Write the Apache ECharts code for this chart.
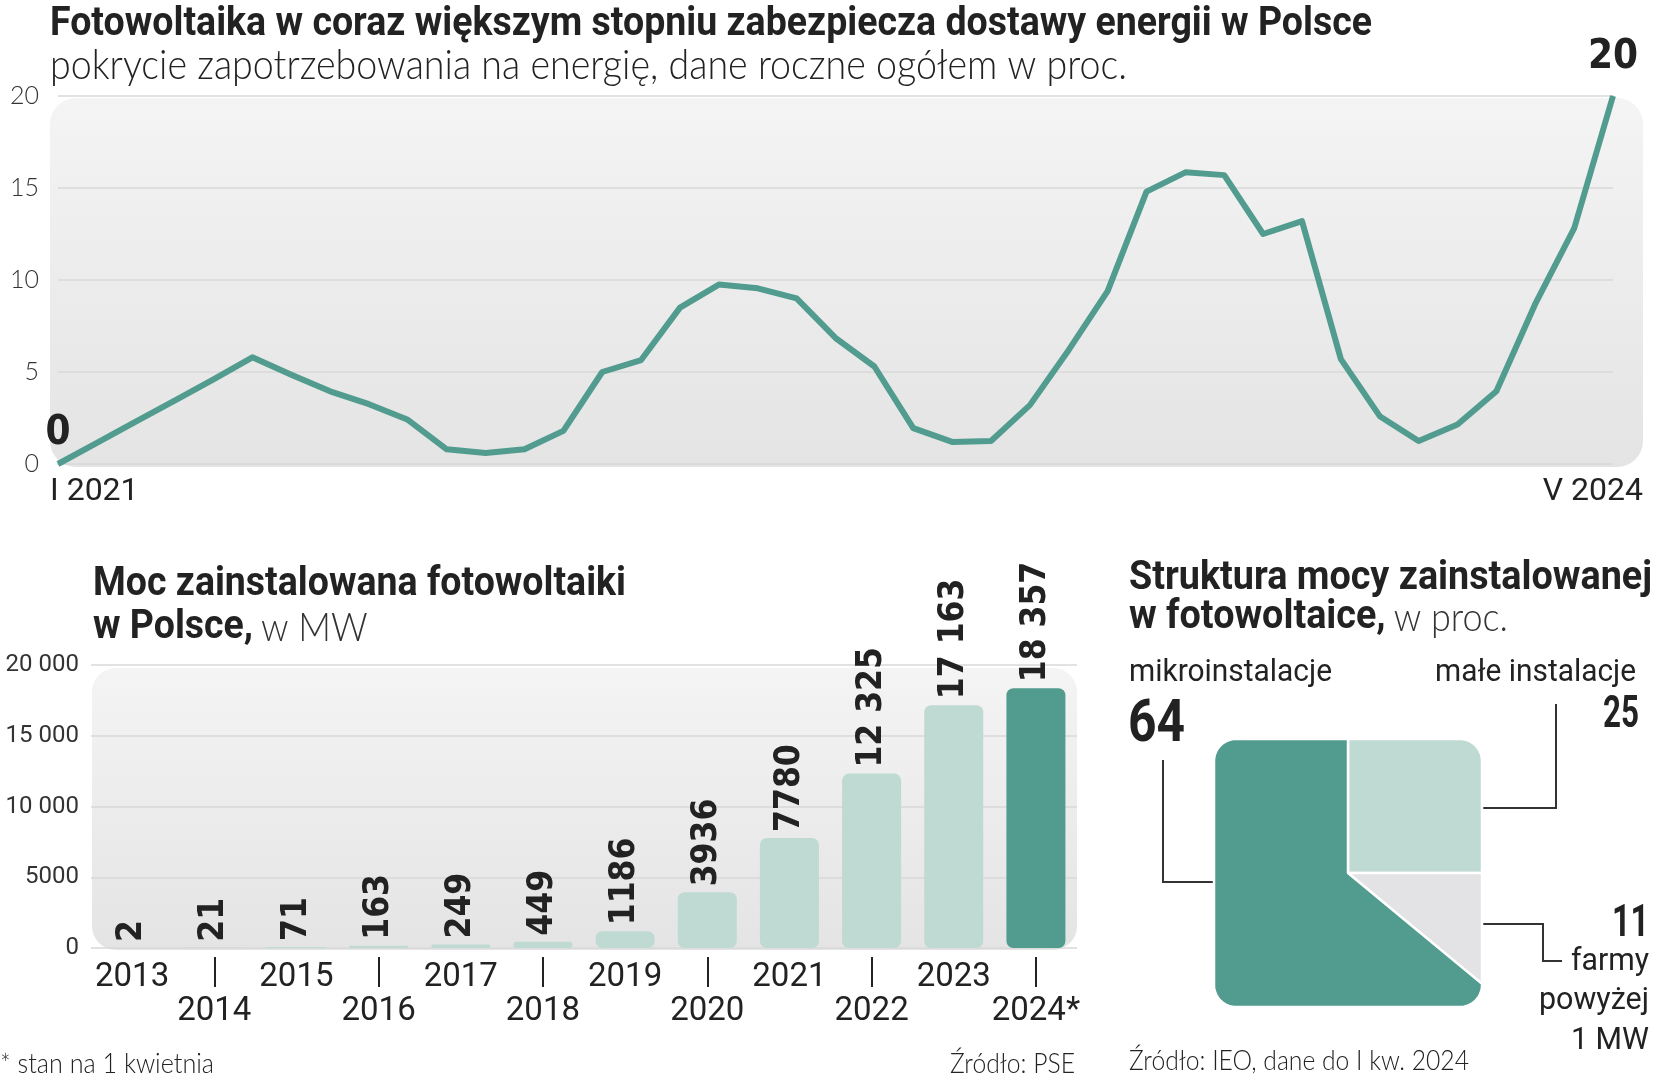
<!DOCTYPE html>
<html>
<head>
<meta charset="utf-8">
<script src="https://cdn.jsdelivr.net/npm/echarts@6/dist/echarts.min.js"></script>
<style>
  html, body { margin: 0; padding: 0; background: #fff; }
  #chart { width: 1655px; height: 1080px; }
</style>
</head>
<body>
<div id="chart"></div>
<script>
// pokrycie zapotrzebowania (proc.), miesiecznie od I 2021 do V 2024
const shareValues = [0, 1.15, 2.3, 3.45, 4.6, 5.8, 4.85, 3.95, 3.25, 2.4, 0.8, 0.6, 0.8, 1.8,
  5.0, 5.65, 8.5, 9.75, 9.55, 9.0, 6.85, 5.3, 1.95, 1.2, 1.25, 3.2, 6.2, 9.4, 14.8, 15.85,
  15.7, 12.5, 13.2, 5.7, 2.6, 1.25, 2.15, 3.95, 8.7, 12.8, 20];
const shareTicks = [0, 5, 10, 15, 20];

const roman = ['I', 'II', 'III', 'IV', 'V', 'VI', 'VII', 'VIII', 'IX', 'X', 'XI', 'XII'];
const months = [];
for (let y = 2021; y <= 2024; y++) {
  for (let m = 0; m < 12; m++) {
    if (months.length < shareValues.length) months.push(roman[m] + ' ' + y);
  }
}

// moc zainstalowana, MW
const years = ['2013', '2014', '2015', '2016', '2017', '2018', '2019', '2020', '2021', '2022', '2023', '2024*'];
const capacityMW = [2, 21, 71, 163, 249, 449, 1186, 3936, 7780, 12325, 17163, 18357];

// struktura mocy, proc. (zgodnie z ruchem wskazowek od godz. 12)
const structNames = ['małe instalacje', 'farmy powyżej 1 MW', 'mikroinstalacje'];
const structValues = [25, 11, 64];

const TEAL = '#519c8f';
const LIGHT = '#bfd9d3';
const GREY = '#e3e3e5';
const structColors = [LIGHT, GREY, TEAL];
const BOLD = "Roboto, 'Noto Sans', sans-serif";
const LIGHTF = "Lato, 'Open Sans', sans-serif";
const NUMF = "'DejaVu Sans Condensed', Roboto, sans-serif";

const bgFill = {
  type: 'linear', x: 0, y: 0, x2: 0, y2: 1,
  colorStops: [{ offset: 0, color: '#f4f4f4' }, { offset: 1, color: '#e4e4e4' }]
};

const fmtNum = v => v >= 10000 ? String(v).replace(/\B(?=(\d{3})+(?!\d))/g, ' ') : String(v);

// pomiar tekstu, zeby scisnac go do szerokosci z oryginalu
const mctx = document.createElement('canvas').getContext('2d');
function textW(font, text) { mctx.font = font; return mctx.measureText(text).width; }

function txt(text, x, y, font, fitW, align, extra) {
  const sx = fitW ? fitW / textW(font, text) : 1;
  return Object.assign({
    type: 'text', x: x, y: y, scaleX: sx,
    style: { text: text, font: font, fill: '#222', align: align || 'left', verticalAlign: 'middle' }
  }, extra || {});
}

// tytul dwuliniowy: pogrubiona linia + pogrubione slowa i cienki dopisek
function twoLineTitle(line1, bold2, thin2, x, y1, y2, w1) {
  const fb = 'bold 40px ' + BOLD;
  const ft = '300 40px ' + LIGHTF;
  const sx = w1 / textW(fb, line1);
  const w2 = textW(fb, bold2) * sx;
  return [
    { type: 'text', x: x, y: y1, scaleX: sx, style: { text: line1, font: fb, fill: '#222', verticalAlign: 'middle' } },
    { type: 'text', x: x, y: y2, scaleX: sx, style: { text: bold2, font: fb, fill: '#222', verticalAlign: 'middle' } },
    { type: 'text', x: x + w2 + 8, y: y2, scaleX: 0.9, style: { text: thin2, font: ft, fill: '#333', verticalAlign: 'middle' } }
  ];
}

// kwadratowy "tort"
const sq = { cx: 1348, cy: 873, h: 134, r: 22 };
const total = structValues.reduce((a, b) => a + b, 0);
function edgePoint(a) {
  const dx = Math.sin(a), dy = -Math.cos(a);
  let t = sq.h / Math.max(Math.abs(dx), Math.abs(dy));
  let x = dx * t, y = dy * t;
  const k = sq.h - sq.r;
  if (Math.abs(x) > k && Math.abs(y) > k) {
    const cx = Math.sign(x) * k, cy = Math.sign(y) * k;
    const b = dx * cx + dy * cy;
    t = b + Math.sqrt(b * b - (cx * cx + cy * cy) + sq.r * sq.r);
    x = dx * t; y = dy * t;
  }
  return [sq.cx + x, sq.cy + y];
}

const chart = echarts.init(document.getElementById('chart'));

const lastIdx = shareValues.length - 1;
const lineData = shareValues.map((v, i) => (i === 0 || i === lastIdx) ? {
  value: v,
  label: { show: true, distance: i === 0 ? 10 : 18 }
} : v);

const lineStroke = { stroke: '#333', lineWidth: 2, fill: null };

const graphics = [
  { type: 'rect', z: -10, shape: { x: 50, y: 98, width: 1593, height: 369, r: 26 }, style: { fill: bgFill } },
  { type: 'rect', z: -10, shape: { x: 92, y: 668, width: 985, height: 282, r: 24 }, style: { fill: bgFill } },
  txt('Fotowoltaika w coraz większym stopniu zabezpiecza dostawy energii w Polsce', 50, 25, 'bold 40px ' + BOLD, 1322),
  txt('pokrycie zapotrzebowania na energię, dane roczne ogółem w proc.', 50, 65, '300 42px ' + LIGHTF, 1077),
  txt(months[0], 50, 492, '32px ' + BOLD, 0),
  txt(months[lastIdx], 1643, 492, '32px ' + BOLD, 0, 'right'),
  // leader lines
  { type: 'polyline', shape: { points: [[1163, 760], [1163, 882], [1214, 882]] }, style: lineStroke },
  { type: 'polyline', shape: { points: [[1556, 704], [1556, 808], [1483, 808]] }, style: lineStroke },
  { type: 'polyline', shape: { points: [[1483, 924], [1543, 924], [1543, 961], [1562, 961]] }, style: lineStroke },
  // etykiety struktury
  txt(structNames[2], 1129, 673, '32px ' + BOLD, 203),
  txt(String(structValues[2]), 1128, 726, 'bold 60px ' + BOLD, 57),
  txt(structNames[0], 1636, 673, '32px ' + BOLD, 201, 'right'),
  txt(String(structValues[0]), 1639, 716, 'bold 45px ' + BOLD, 36, 'right'),
  txt(String(structValues[1]), 1649, 925, 'bold 45px ' + BOLD, 37, 'right'),
  txt('farmy', 1649, 962, '32px ' + BOLD, 78, 'right'),
  txt('powyżej', 1649, 1001, '32px ' + BOLD, 110, 'right'),
  txt('1 MW', 1649, 1041, '32px ' + BOLD, 78, 'right'),
  // przypisy
  txt('* stan na 1 kwietnia', 0, 1064, '300 28px ' + LIGHTF, 214),
  txt('Źródło: PSE', 1075, 1064, '300 28px ' + LIGHTF, 125, 'right'),
  txt('Źródło: IEO, dane do I kw. 2024', 1129, 1061, '300 28px ' + LIGHTF, 340)
].concat(
  twoLineTitle('Moc zainstalowana fotowoltaiki', 'w Polsce,', 'w MW', 93, 585, 628, 533),
  twoLineTitle('Struktura mocy zainstalowanej', 'w fotowoltaice,', 'w proc.', 1129, 579, 618, 523)
);

chart.setOption({
  animation: false,
  backgroundColor: '#fff',
  graphic: graphics,
  grid: [
    { left: 58, right: 42, top: 96, bottom: 616 },
    { left: 91, right: 578, top: 665, bottom: 132 }
  ],
  xAxis: [
    {
      gridIndex: 0, type: 'category', data: months, boundaryGap: false,
      axisLine: { show: false }, axisTick: { show: false }, splitLine: { show: false },
      axisLabel: { show: false }
    },
    {
      gridIndex: 1, type: 'category', data: years, position: 'bottom',
      axisLine: { show: false }, axisTick: { show: false },
      axisLabel: {
        interval: 0, margin: 13, fontFamily: BOLD, fontSize: 33, lineHeight: 34, color: '#222',
        formatter: (v, i) => i % 2 === 0 ? v : '\n' + v
      }
    },
    {
      gridIndex: 1, type: 'category', data: years, position: 'bottom', offset: 9,
      axisLine: { show: false }, axisLabel: { show: false },
      axisTick: {
        show: true, alignWithLabel: true, length: 30,
        interval: (i) => i % 2 === 1,
        lineStyle: { color: '#222', width: 2 }
      }
    }
  ],
  yAxis: [
    {
      gridIndex: 0, type: 'value', min: shareTicks[0], max: shareTicks[shareTicks.length - 1], interval: 5,
      axisLine: { show: false }, axisTick: { show: false },
      splitLine: { lineStyle: { color: '#d9d9d9', width: 1.5 } },
      axisLabel: { margin: 19, fontFamily: LIGHTF, fontWeight: 300, fontSize: 25, color: '#333' }
    },
    {
      gridIndex: 1, type: 'value', min: 0, max: 20000, interval: 5000,
      axisLine: { show: false }, axisTick: { show: false },
      splitLine: { lineStyle: { color: '#d9d9d9', width: 1.5 } },
      axisLabel: { margin: 12, fontFamily: BOLD, fontSize: 24, color: '#333', formatter: v => fmtNum(v) }
    }
  ],
  series: [
    {
      type: 'line', xAxisIndex: 0, yAxisIndex: 0, data: lineData,
      symbol: 'circle', symbolSize: 1, showAllSymbol: true, z: 5,
      itemStyle: { color: TEAL },
      lineStyle: { color: TEAL, width: 6, join: 'round' },
      label: {
        show: false, position: 'top',
        fontFamily: NUMF, fontWeight: 'bold', fontSize: 40, color: '#222'
      }
    },
    {
      type: 'bar', xAxisIndex: 1, yAxisIndex: 1, barWidth: 59,
      data: capacityMW.map((v, i) => ({
        value: v,
        itemStyle: { color: i === capacityMW.length - 1 ? TEAL : LIGHT }
      })),
      itemStyle: { borderRadius: 7 },
      label: {
        show: true, position: 'top', rotate: 90, align: 'left', verticalAlign: 'middle', distance: 6,
        fontFamily: NUMF, fontWeight: 'bold', fontSize: 35, color: '#222',
        formatter: p => fmtNum(p.value)
      }
    },
    {
      type: 'custom', coordinateSystem: 'none', data: structValues,
      renderItem: function (params, api) {
        const i = params.dataIndex;
        let before = 0;
        for (let k = 0; k < i; k++) before += structValues[k];
        const a0 = before / total * Math.PI * 2;
        const a1 = (before + api.value(0)) / total * Math.PI * 2;
        const steps = Math.max(2, Math.ceil((a1 - a0) / (Math.PI / 360)));
        const pts = [[sq.cx, sq.cy]];
        for (let s = 0; s <= steps; s++) pts.push(edgePoint(a0 + (a1 - a0) * s / steps));
        return {
          type: 'polygon',
          shape: { points: pts },
          style: { fill: structColors[i], stroke: '#fff', lineWidth: 2.5, lineJoin: 'round' }
        };
      }
    }
  ]
});
</script>
</body>
</html>
